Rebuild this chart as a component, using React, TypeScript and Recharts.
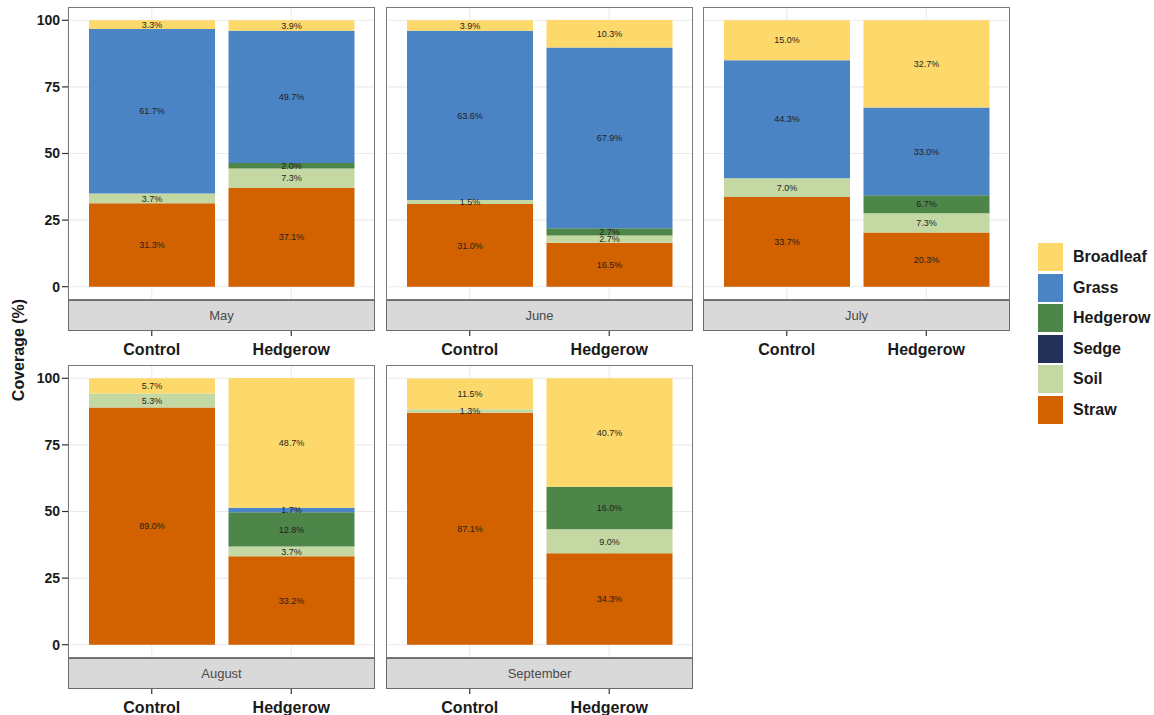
import React from "react";
import { BarChart, Bar, XAxis, YAxis, CartesianGrid, LabelList } from "recharts";

const months = ["May", "June", "July", "August", "September"];
const treatments = ["Control", "Hedgerow"];

// stacked bottom -> top
const covers = ["Straw", "Soil", "Sedge", "Hedgerow", "Grass", "Broadleaf"];
const coverColors = ["#D26100", "#C4D8A4", "#233057", "#4E8549", "#4A84C4", "#FDD96B"];

// one [Control, Hedgerow] pair per month
const straw = [[31.3, 37.1], [31.0, 16.5], [33.7, 20.3], [89.0, 33.2], [87.1, 34.3]];
const soil = [[3.7, 7.3], [1.5, 2.7], [7.0, 7.3], [5.3, 3.7], [1.3, 9.0]];
const sedge = [[0, 0], [0, 0], [0, 0], [0, 0], [0, 0]];
const hedgerow = [[0, 2.0], [0, 2.7], [0, 6.7], [0, 12.8], [0, 16.0]];
const grass = [[61.7, 49.7], [63.6, 67.9], [44.3, 33.0], [0, 1.7], [0, 0]];
const broadleaf = [[3.3, 3.9], [3.9, 10.3], [15.0, 32.7], [5.7, 48.7], [11.5, 40.7]];
const coverValues = [straw, soil, sedge, hedgerow, grass, broadleaf];

const yTicks = [0, 25, 50, 75, 100];
const yMinorTicks = [12.5, 37.5, 62.5, 87.5];

const FONT = '"Liberation Sans", Arial, Helvetica, sans-serif';
const PANEL_W = 307;
const PLOT_H = 293;
const STRIP_H = 31;
const AXIS_W = 60;
const X_AXIS_H = 62;
const panelX = [68, 386, 703];
const rowY = [7, 365];

function panelData(m: number) {
  return treatments.map((t, i) => {
    const row: Record<string, string | number> = { treatment: t };
    covers.forEach((c, k) => {
      row[c] = coverValues[k][m][i];
    });
    return row;
  });
}

function XTick(props: any) {
  const { x, y, payload } = props;
  return (
    <g>
      <line x1={x} x2={x} y1={y + STRIP_H} y2={y + STRIP_H + 5} stroke="#333" strokeWidth={1.2} />
      <text
        x={x}
        y={y + STRIP_H + 24}
        textAnchor="middle"
        fontSize={16}
        fontWeight="bold"
        fill="#1a1a1a"
      >
        {payload.value}
      </text>
    </g>
  );
}

function Panel({ m }: { m: number }) {
  const col = m % 3;
  const row = Math.floor(m / 3);
  const withAxis = col === 0;
  const left = panelX[col] - (withAxis ? AXIS_W : 0);
  const top = rowY[row];
  return (
    <>
      <div style={{ position: "absolute", left, top }}>
        <BarChart
          width={PANEL_W + (withAxis ? AXIS_W : 0)}
          height={PLOT_H + X_AXIS_H}
          data={panelData(m)}
          margin={{ top: 0, right: 0, bottom: 0, left: 0 }}
          barCategoryGap={7}
        >
          <CartesianGrid yAxisId="minor" vertical={false} stroke="#EEEEEE" strokeWidth={0.6} />
          <CartesianGrid stroke="#EBEBEB" strokeWidth={1.1} />
          <XAxis
            dataKey="treatment"
            padding={{ left: 14, right: 14 }}
            axisLine={false}
            tickLine={false}
            tickSize={0}
            tickMargin={0}
            height={X_AXIS_H}
            interval={0}
            tick={<XTick />}
          />
          <YAxis
            hide={!withAxis}
            width={withAxis ? AXIS_W : 0}
            type="number"
            domain={[-5, 105]}
            ticks={yTicks}
            axisLine={false}
            tickLine={{ stroke: "#333", strokeWidth: 1.2 }}
            tickSize={6}
            tickMargin={2}
            tick={{ fontSize: 14, fontWeight: "bold", fill: "#1a1a1a" }}
          />
          <YAxis yAxisId="minor" hide type="number" domain={[-5, 105]} ticks={yMinorTicks} />
          {covers.map((c, k) => (
            <Bar key={c} dataKey={c} stackId="cover" fill={coverColors[k]} isAnimationActive={false}>
              <LabelList
                dataKey={c}
                position="center"
                fontSize={9}
                fill="#1f1f1f"
                formatter={(v: any) => (Number(v) > 0 ? `${Number(v).toFixed(1)}%` : "")}
              />
            </Bar>
          ))}
        </BarChart>
      </div>
      <div
        style={{
          position: "absolute",
          left: panelX[col],
          top,
          width: PANEL_W,
          height: PLOT_H,
          boxSizing: "border-box",
          border: "1px solid #7a7a7a",
          pointerEvents: "none",
        }}
      />
      <div
        style={{
          position: "absolute",
          left: panelX[col],
          top: top + PLOT_H,
          width: PANEL_W,
          height: STRIP_H,
          boxSizing: "border-box",
          border: "1px solid #6a6a6a",
          background: "#D9D9D9",
          color: "#4a4a4a",
          fontSize: 13,
          display: "flex",
          alignItems: "center",
          justifyContent: "center",
        }}
      >
        {months[m]}
      </div>
    </>
  );
}

export default function App() {
  const legendItems = covers.map((c, k) => ({ name: c, color: coverColors[k] })).reverse();
  return (
    <div
      style={{
        position: "absolute",
        left: 0,
        top: 0,
        width: 1154,
        height: 715,
        overflow: "hidden",
        background: "#fff",
        fontFamily: FONT,
      }}
    >
      {months.map((_, m) => (
        <Panel key={m} m={m} />
      ))}
      <div
        style={{
          position: "absolute",
          left: 19,
          top: 350,
          transform: "translate(-50%, -50%) rotate(-90deg)",
          whiteSpace: "nowrap",
          fontSize: 16,
          fontWeight: "bold",
          color: "#1a1a1a",
        }}
      >
        Coverage (%)
      </div>
      <div style={{ position: "absolute", left: 1038, top: 242 }}>
        {legendItems.map((it) => (
          <div key={it.name} style={{ display: "flex", alignItems: "center", height: 30.5 }}>
            <div style={{ width: 25, height: 28, background: it.color }} />
            <div style={{ marginLeft: 10, fontSize: 16, fontWeight: "bold", color: "#1a1a1a" }}>{it.name}</div>
          </div>
        ))}
      </div>
    </div>
  );
}
